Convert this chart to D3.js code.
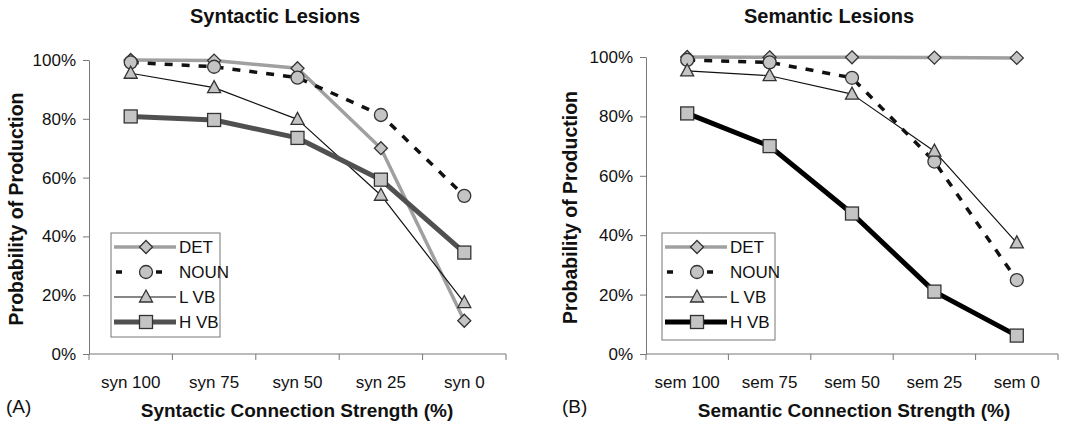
<!DOCTYPE html>
<html>
<head>
<meta charset="utf-8">
<script src="https://cdn.jsdelivr.net/npm/d3@7"></script>
<style>
  body { margin: 0; background: #fff; }
  svg text { font-family: "Liberation Sans", Arial, sans-serif; fill: #111; }
</style>
</head>
<body>
<script>
// data (probabilities, 0..1)
const synCats = ["syn 100", "syn 75", "syn 50", "syn 25", "syn 0"];
const semCats = ["sem 100", "sem 75", "sem 50", "sem 25", "sem 0"];
const seriesNames = ["DET", "NOUN", "L VB", "H VB"];

const synDET  = [1.00, 0.998, 0.972, 0.70, 0.113];
const synNOUN = [0.992, 0.977, 0.94, 0.813, 0.538];
const synLVB  = [0.955, 0.906, 0.798, 0.54, 0.175];
const synHVB  = [0.808, 0.796, 0.735, 0.593, 0.345];

const semDET  = [1.00, 0.999, 0.999, 0.998, 0.997];
const semNOUN = [0.99, 0.982, 0.93, 0.648, 0.249];
const semLVB  = [0.953, 0.937, 0.875, 0.683, 0.374];
const semHVB  = [0.81, 0.70, 0.473, 0.21, 0.062];

const yTicks = [0, 0.2, 0.4, 0.6, 0.8, 1.0];

const W = 1078, H = 425;
const svg = d3.select("body").append("svg").attr("width", W).attr("height", H);

const markerFill = "#c4c4c4", markerStroke = "#333";

function drawPanel(cfg) {
  const g = svg.append("g");
  const x = d3.scaleBand().domain(cfg.cats).range([cfg.x0, cfg.x1]);
  const y = d3.scaleLinear().domain([0, 1]).range([cfg.y0, cfg.y1]);
  const cx = c => x(c) + x.bandwidth() / 2;

  // title
  g.append("text").attr("x", cfg.titleX).attr("y", 23).attr("text-anchor", "middle")
    .style("font-size", "20px").style("font-weight", "bold").text(cfg.title);

  // y axis
  const ya = g.append("g").attr("transform", `translate(${cfg.x0},0)`)
    .call(d3.axisLeft(y).tickValues(yTicks).tickFormat(d3.format(".0%")).tickSize(6).tickSizeOuter(0));
  ya.select(".domain").attr("stroke", "#777");
  ya.selectAll(".tick line").attr("stroke", "#777");
  ya.selectAll(".tick text").attr("x", -13).style("font-size", "17px")
    .style("font-family", "Liberation Sans, Arial, sans-serif").attr("fill", "#111");

  // x axis line + ticks between categories
  g.append("line").attr("x1", cfg.x0).attr("x2", cfg.x1).attr("y1", cfg.y0).attr("y2", cfg.y0)
    .attr("stroke", "#777");
  const edges = cfg.cats.map(c => x(c)).concat([cfg.x1]);
  g.selectAll(".xt").data(edges).enter().append("line")
    .attr("x1", d => d).attr("x2", d => d).attr("y1", cfg.y0).attr("y2", cfg.y0 + 6)
    .attr("stroke", "#777");
  g.selectAll(".xl").data(cfg.cats).enter().append("text")
    .attr("x", d => cx(d)).attr("y", 388).attr("text-anchor", "middle")
    .style("font-size", "17px").text(d => d);

  // axis titles
  g.append("text").attr("x", cfg.xTitleX).attr("y", 417).attr("text-anchor", "middle")
    .style("font-size", "19px").style("font-weight", "bold").text(cfg.xTitle);
  g.append("text").attr("transform", `translate(${cfg.yTitleX},${(cfg.y0 + cfg.y1) / 2 + 2}) rotate(-90)`)
    .attr("text-anchor", "middle").style("font-size", "19.5px").style("font-weight", "bold")
    .text("Probability of Production");
  g.append("text").attr("x", cfg.letterX).attr("y", 413).style("font-size", "19px").text(cfg.letter);

  // lines
  const line = d3.line().x((d, i) => cx(cfg.cats[i])).y(d => y(d));
  cfg.series.forEach((s, k) => {
    const st = cfg.styles[k];
    g.append("path").datum(s).attr("d", line).attr("fill", "none")
      .attr("stroke", st.color).attr("stroke-width", st.width)
      .attr("stroke-dasharray", st.dash || null).attr("stroke-linejoin", "round");
  });
  cfg.series.forEach((s, k) => {
    s.forEach((v, i) => drawMarker(g, k, cx(cfg.cats[i]), y(v)));
  });

  // legend
  const lg = g.append("g").attr("transform", `translate(${cfg.legX},${cfg.legY})`);
  lg.append("rect").attr("width", cfg.legW).attr("height", cfg.legH)
    .attr("fill", "#fff").attr("stroke", "#777").attr("stroke-width", 1);
  seriesNames.forEach((n, k) => {
    const st = cfg.styles[k];
    const yy = 14 + k * 25;
    lg.append("line").attr("x1", st.dash ? 5 : 3).attr("x2", 65).attr("y1", yy).attr("y2", yy)
      .attr("stroke", st.color).attr("stroke-width", st.width)
      .attr("stroke-dasharray", st.dash ? "6,34,6,40" : null);
    drawMarker(lg, k, 35, yy);
    lg.append("text").attr("x", 68).attr("y", yy).attr("dy", "0.36em")
      .style("font-size", "17px").text(n);
  });
}

function drawMarker(g, k, px, py) {
  let m;
  if (k === 0) {
    m = g.append("path").attr("d", "M0,-6.5L6.5,0L0,6.5L-6.5,0Z");
  } else if (k === 1) {
    m = g.append("circle").attr("r", 6.5);
  } else if (k === 2) {
    m = g.append("path").attr("d", "M0,-7L6.5,5L-6.5,5Z");
  } else {
    m = g.append("rect").attr("x", -6.5).attr("y", -6.5).attr("width", 13).attr("height", 13);
  }
  m.attr("fill", markerFill).attr("stroke", markerStroke).attr("stroke-width", 1.3);
  if (k === 1) m.attr("cx", px).attr("cy", py);
  else m.attr("transform", `translate(${px},${py})`);
}

drawPanel({
  cats: synCats, x0: 89, x1: 506, y0: 354, y1: 60,
  series: [synDET, synNOUN, synLVB, synHVB],
  styles: [
    { color: "#a0a0a0", width: 3.5 },
    { color: "#111", width: 3.5, dash: "8,9" },
    { color: "#111", width: 1.2 },
    { color: "#505050", width: 5 }
  ],
  title: "Syntactic Lesions", titleX: 275,
  xTitle: "Syntactic Connection Strength (%)", xTitleX: 297,
  yTitleX: 23, letter: "(A)", letterX: 6,
  legX: 111, legY: 233, legW: 109, legH: 104
});

drawPanel({
  cats: semCats, x0: 646, x1: 1058, y0: 354, y1: 57,
  series: [semDET, semNOUN, semLVB, semHVB],
  styles: [
    { color: "#a0a0a0", width: 3.5 },
    { color: "#111", width: 3.5, dash: "8,9" },
    { color: "#111", width: 1.2 },
    { color: "#000", width: 5 }
  ],
  title: "Semantic Lesions", titleX: 829,
  xTitle: "Semantic Connection Strength (%)", xTitleX: 854,
  yTitleX: 577, letter: "(B)", letterX: 562,
  legX: 662, legY: 233, legW: 113, legH: 107
});
</script>
</body>
</html>
